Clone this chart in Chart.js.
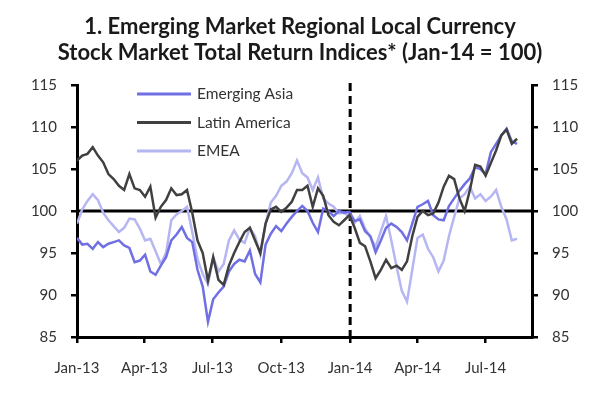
<!DOCTYPE html>
<html>
<head>
<meta charset="utf-8">
<script src="https://cdn.jsdelivr.net/npm/chart.js@4/dist/chart.umd.min.js"></script>
<style>
  html, body { margin: 0; padding: 0; background: #fff; }
</style>
</head>
<body>
<canvas id="chart" width="600" height="397"></canvas>
<script>
// weekly readings, first week of Jan-13 to mid Aug-14
const startDay = 0
const stepDays = 7

const emergingAsia = [
  96.8, 96.0, 96.1, 95.5, 96.3, 95.7, 96.1, 96.3, 96.5, 95.9,
  95.6, 93.9, 94.1, 94.8, 92.8, 92.4, 93.5, 94.5, 96.5, 97.2,
  98.1, 96.8, 96.3, 93.0, 91.0, 86.8, 89.5, 90.3, 91.0, 92.8,
  93.7, 94.2, 94.0, 95.3, 92.5, 91.5, 96.0, 97.3, 98.2, 97.6,
  98.5, 99.3, 100.0, 100.6, 100.0, 98.6, 97.5, 100.3, 100.0, 99.4,
  100.0, 99.8, 99.9, 98.8, 99.0, 97.6, 97.0, 95.1, 96.5, 98.0,
  98.5, 98.1, 97.5, 96.5, 98.5, 100.5, 100.8, 101.2, 99.5, 99.0,
  98.9, 100.6, 101.5, 102.4, 103.2, 103.9, 105.2, 105.0, 104.4, 107.0,
  108.0, 109.0, 109.8, 108.3, 108.0
]

const latinAmerica = [
  106.0, 106.6, 106.8, 107.6, 106.6, 105.8, 104.4, 103.8, 103.0, 102.5,
  104.4, 102.7, 102.5, 101.7, 102.9, 99.2, 100.5, 101.3, 102.7, 101.9,
  102.0, 102.5, 99.8, 96.5, 95.0, 91.7, 94.5, 91.8, 91.2, 93.5,
  95.0, 96.3, 97.5, 98.0, 96.5, 95.0, 98.5, 100.2, 100.5, 99.9,
  100.4, 101.1, 102.5, 102.5, 103.0, 100.5, 102.7, 101.8, 99.5, 98.7,
  98.3, 98.9, 99.5, 98.0, 96.2, 95.8, 94.0, 92.0, 93.0, 94.2,
  93.2, 93.5, 93.0, 94.0, 97.0, 99.3, 100.0, 99.5, 99.7, 101.0,
  102.9, 104.2, 103.8, 101.5, 100.0, 102.5, 105.5, 105.3, 104.2, 105.7,
  107.2, 109.0, 109.7, 108.0, 108.6
]

const emea = [
  98.5, 100.2, 101.2, 102.0, 101.3, 99.8, 98.9, 98.2, 97.5, 98.0,
  99.1, 99.0, 97.9, 96.5, 96.7, 95.2, 93.7, 95.0, 98.9, 99.6,
  100.0, 100.5, 97.5, 94.3, 92.5, 91.3, 94.5, 92.8, 93.7, 96.5,
  97.7, 96.6, 96.2, 98.0, 97.0, 94.8, 98.5, 101.0, 101.8, 103.0,
  103.5, 104.5, 106.0, 104.5, 104.0, 102.5, 104.0, 101.5, 100.9, 100.5,
  99.7, 99.8, 99.3, 98.6, 99.4, 97.9, 96.9, 95.7, 97.6, 99.4,
  96.5, 93.4, 90.5, 89.2, 93.0, 96.8, 97.2, 95.5, 94.5, 92.8,
  94.1, 97.0, 99.3, 101.5, 102.0, 102.9, 101.5, 102.0, 101.2, 101.7,
  102.5, 100.5, 99.0, 96.5, 96.7
]

// days since 1 Jan 2013
const tickDays = [0, 90, 181, 273, 365, 455, 546]
const tickLabels = ['Jan-13', 'Apr-13', 'Jul-13', 'Oct-13', 'Jan-14', 'Apr-14', 'Jul-14']
const axisEndDay = 608
const baseValue = 100
const baseDay = 365

const titleLines = [
  '1. Emerging Market Regional Local Currency',
  'Stock Market Total Return Indices* (Jan-14 = 100)'
]

function toPoints(values) {
  return values.map((v, i) => ({ x: startDay + i * stepDays, y: v }))
}

const FONT = 'Lato, "Open Sans", sans-serif'

const overlay = {
  id: 'overlay',
  beforeDatasetsDraw(chart) {
    const ctx = chart.ctx
    const a = chart.chartArea
    const x = chart.scales.x
    const y = chart.scales.y
    ctx.save()
    // base line at 100
    ctx.strokeStyle = '#000'
    ctx.lineWidth = 3
    ctx.beginPath()
    ctx.moveTo(a.left, y.getPixelForValue(baseValue))
    ctx.lineTo(a.right, y.getPixelForValue(baseValue))
    ctx.stroke()
    // dashed line at Jan-14
    ctx.setLineDash([8, 5])
    ctx.beginPath()
    ctx.moveTo(x.getPixelForValue(baseDay), a.top - 2)
    ctx.lineTo(x.getPixelForValue(baseDay), a.bottom)
    ctx.stroke()
    ctx.restore()
  },
  afterDraw(chart) {
    const ctx = chart.ctx
    ctx.save()
    // title
    ctx.fillStyle = '#1a1a1a'
    ctx.font = 'bold 22px ' + FONT
    ctx.textAlign = 'center'
    ctx.textBaseline = 'alphabetic'
    ctx.fillText(titleLines[0], 300, 34)
    ctx.fillText(titleLines[1], 300, 60)
    // legend
    const rows = [0, 1, 2]
    ctx.font = '15.5px ' + FONT
    ctx.textAlign = 'left'
    ctx.textBaseline = 'middle'
    rows.forEach(i => {
      const ds = chart.data.datasets[i]
      const yy = 94 + i * 28.5
      ctx.strokeStyle = ds.borderColor
      ctx.lineWidth = 3
      ctx.beginPath()
      ctx.moveTo(137, yy)
      ctx.lineTo(191, yy)
      ctx.stroke()
      ctx.fillStyle = '#333'
      ctx.fillText(ds.label, 197, yy)
    })
    ctx.restore()
  }
}

const yTicks = {
  stepSize: 5,
  color: '#333',
  padding: 14,
  font: { family: FONT, size: 15 }
}
const axisGrid = { drawOnChartArea: false, tickLength: 6, color: '#000', lineWidth: 2.5 }
const axisBorder = { display: true, color: '#000', width: 3 }

new Chart(document.getElementById('chart'), {
  type: 'line',
  data: {
    datasets: [
      {
        label: 'Emerging Asia',
        data: toPoints(emergingAsia),
        borderColor: 'rgb(112, 112, 228)',
        borderWidth: 2.5,
        pointRadius: 0,
        order: 1
      },
      {
        label: 'Latin America',
        data: toPoints(latinAmerica),
        borderColor: 'rgb(64, 64, 64)',
        borderWidth: 2.5,
        pointRadius: 0,
        order: 0
      },
      {
        label: 'EMEA',
        data: toPoints(emea),
        borderColor: 'rgb(182, 182, 242)',
        borderWidth: 2.5,
        pointRadius: 0,
        order: 2
      }
    ]
  },
  options: {
    responsive: false,
    animation: false,
    devicePixelRatio: 1,
    layout: { padding: { top: 85, left: 0, right: 0, bottom: 0 } },
    plugins: {
      legend: { display: false },
      title: { display: false },
      tooltip: { enabled: false }
    },
    scales: {
      x: {
        type: 'linear',
        min: 0,
        max: axisEndDay,
        afterBuildTicks: s => { s.ticks = tickDays.map(v => ({ value: v })) },
        afterFit: s => { s.height = 60 },
        ticks: {
          color: '#333',
          padding: 16,
          maxRotation: 0,
          autoSkip: false,
          font: { family: FONT, size: 15 },
          callback: v => tickLabels[tickDays.indexOf(v)]
        },
        grid: axisGrid,
        border: axisBorder
      },
      y: {
        position: 'left',
        min: 85,
        max: 115,
        afterFit: s => { s.width = 77 },
        ticks: yTicks,
        grid: axisGrid,
        border: axisBorder
      },
      y2: {
        position: 'right',
        min: 85,
        max: 115,
        afterFit: s => { s.width = 68 },
        ticks: yTicks,
        grid: axisGrid,
        border: axisBorder
      }
    }
  },
  plugins: [overlay]
})
</script>
</body>
</html>
